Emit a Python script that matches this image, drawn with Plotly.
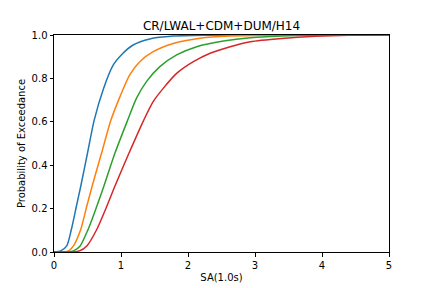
import plotly.graph_objects as go

blue_x = [0, 0.1, 0.19, 0.26, 0.335, 0.4, 0.5, 0.6, 0.74, 0.885, 1.03, 1.18, 1.43, 1.78, 2.3, 3.0, 5.0]
blue_y = [0, 0.005, 0.028, 0.105, 0.212, 0.304, 0.456, 0.608, 0.754, 0.862, 0.916, 0.954, 0.982, 0.995, 0.999, 1.0, 1.0]

orange_x = [0, 0.15, 0.22, 0.29, 0.4, 0.49, 0.57, 0.71, 0.85, 0.985, 1.13, 1.28, 1.48, 1.78, 2.18, 2.63, 3.2, 5.0]
orange_y = [0, 0.0, 0.005, 0.028, 0.105, 0.212, 0.304, 0.456, 0.608, 0.716, 0.816, 0.877, 0.923, 0.961, 0.985, 0.995, 0.999, 1.0]

green_x = [0, 0.2, 0.29, 0.39, 0.51, 0.64, 0.745, 0.91, 1.1, 1.23, 1.38, 1.58, 1.83, 2.13, 2.53, 2.93, 3.5, 4.2, 5.0]
green_y = [0, 0.0, 0.005, 0.028, 0.105, 0.212, 0.304, 0.456, 0.608, 0.708, 0.785, 0.854, 0.908, 0.946, 0.972, 0.987, 0.996, 1.0, 1.0]

red_x = [0, 0.28, 0.38, 0.49, 0.64, 0.79, 0.91, 1.12, 1.34, 1.48, 1.63, 1.83, 2.08, 2.33, 2.63, 2.93, 3.4, 3.9, 4.4, 5.0]
red_y = [0, 0.0, 0.005, 0.028, 0.105, 0.212, 0.304, 0.456, 0.608, 0.693, 0.754, 0.823, 0.877, 0.916, 0.946, 0.969, 0.984, 0.994, 0.999, 1.0]

series = [
    (blue_x, blue_y, "#1f77b4"),
    (orange_x, orange_y, "#ff7f0e"),
    (green_x, green_y, "#2ca02c"),
    (red_x, red_y, "#d62728"),
]

x_ticks = [0, 1, 2, 3, 4, 5]
y_ticks = [0.0, 0.2, 0.4, 0.6, 0.8, 1.0]

fig = go.Figure()
for xs, ys, c in series:
    fig.add_trace(go.Scatter(x=xs, y=ys, mode="lines",
                             line=dict(color=c, width=1.5, shape="spline", smoothing=0.7),
                             showlegend=False))

font = "DejaVu Sans, sans-serif"
axis_common = dict(
    showgrid=False, zeroline=False, showline=True, linecolor="black", linewidth=1,
    mirror=True, ticks="outside", ticklen=3.5, tickwidth=1, tickcolor="black",
    tickfont=dict(family=font, size=10, color="black"), automargin=False,
)
fig.update_layout(
    width=432, height=288,
    margin=dict(l=54, r=43, t=35, b=36),
    paper_bgcolor="white", plot_bgcolor="white",
    title=dict(text="CR/LWAL+CDM+DUM/H14", x=0.5, xref="paper", xanchor="center",
               y=1, yref="paper", yanchor="bottom", pad=dict(b=5),
               font=dict(family=font, size=12, color="black")),
    xaxis=dict(range=[0, 5], tickvals=x_ticks, ticktext=[str(v) for v in x_ticks],
               title=dict(text="SA(1.0s)", font=dict(family=font, size=10, color="black"), standoff=4),
               **axis_common),
    yaxis=dict(range=[0, 1], tickvals=y_ticks, ticktext=[f"{v:.1f}" for v in y_ticks],
               title=dict(text="Probability of Exceedance", font=dict(family=font, size=10, color="black"), standoff=4),
               **axis_common),
)
fig.write_html("out.html")
